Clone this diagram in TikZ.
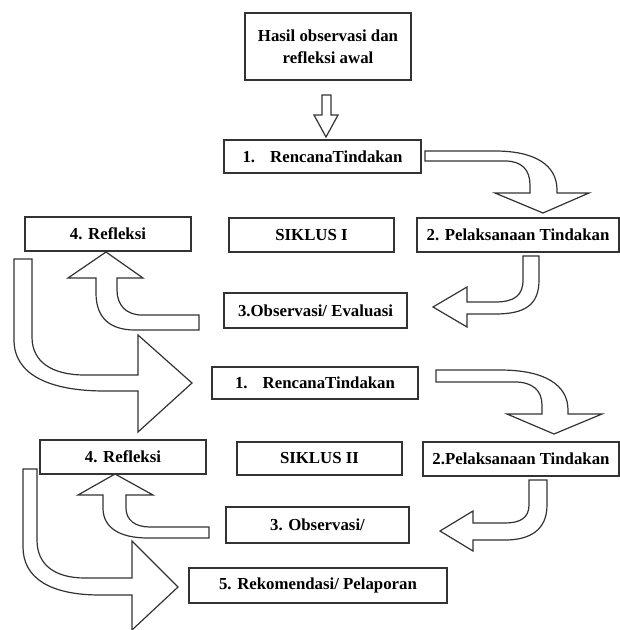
\documentclass[tikz,border=0pt]{standalone}
\usepackage{fontspec}
\setmainfont{Liberation Serif}
\begin{document}
\begin{tikzpicture}[x=1pt,y=-1pt,
  box/.style={draw=black!80,line width=1.3pt,fill=white,rectangle,inner sep=0pt,
    font=\fontsize{16.8}{22}\selectfont\bfseries,align=center},
  blk/.style={draw=black!80,line width=1.2pt,fill=white,line join=miter}]
\useasboundingbox (0,0) rectangle (620,630);
% boxes
\node[box,minimum width=166pt,minimum height=67pt] (hasil) at (328,46.5) {Hasil observasi dan\\refleksi awal};
\node[box,minimum width=197pt,minimum height=33pt] (r1) at (322.5,156.5) {1.\hspace{0.9em}RencanaTindakan};
\node[box,minimum width=202pt,minimum height=34pt] (p1) at (518,235) {2. Pelaksanaan Tindakan};
\node[box,minimum width=165pt,minimum height=34pt] (s1) at (311.5,235) {SIKLUS I};
\node[box,minimum width=166pt,minimum height=34pt] (f1) at (108,234) {4. Refleksi};
\node[box,minimum width=183pt,minimum height=35pt] (o1) at (315.5,310.5) {3.Observasi/ Evaluasi};
\node[box,minimum width=206pt,minimum height=32pt] (r2) at (315,383) {1.\hspace{0.9em}RencanaTindakan};
\node[box,minimum width=196pt,minimum height=34pt] (p2) at (521,459) {2.Pelaksanaan Tindakan};
\node[box,minimum width=165pt,minimum height=33pt] (s2) at (319.5,458.5) {SIKLUS II};
\node[box,minimum width=166pt,minimum height=34pt] (f2) at (123,457) {4. Refleksi};
\node[box,minimum width=183pt,minimum height=36pt] (o2) at (317.5,525) {3. Observasi/};
\node[box,minimum width=258pt,minimum height=35pt] (k) at (318,585.5) {5. Rekomendasi/ Pelaporan};
% block arrows
% hasil -> r1
\draw[blk] (322,95) -- (331,95) -- (331,115) -- (338,115) -- (326,137) -- (314,115) -- (322,115) -- cycle;
% r1 -> p1
\draw[blk] (425,151) -- (495,151) .. controls (535,151) and (557,165) .. (557,190) -- (557,193) -- (589,193) -- (543,213) -- (495,193) -- (530,193) -- (530,185) .. controls (530,170) and (522,161) .. (505,161) -- (425,161) -- cycle;
% p1 -> o1
\draw[blk] (523,256) -- (539,256) -- (539,280) .. controls (539,305) and (525,314) .. (495,314) -- (467,314) -- (467,327) -- (433,307) -- (467,287) -- (467,302) -- (495,302) .. controls (515,302) and (523,295) .. (523,280) -- cycle;
% o1 -> f1
\draw[blk] (199,315) -- (142,315) .. controls (126,315) and (117,305) .. (117,290) -- (117,278) -- (143,278) -- (106,252) -- (68,278) -- (96,278) -- (96,293) .. controls (96,318) and (110,330) .. (135,330) -- (199,330) -- cycle;
% f1 -> r2
\draw[blk] (14,259) -- (32,259) -- (32,337) .. controls (32,362) and (52,375) .. (85,375) -- (138,375) -- (138,335) -- (192,383) -- (138,432) -- (138,391) -- (105,391) .. controls (50,391) and (14,375) .. (14,340) -- cycle;
% r2 -> p2
\draw[blk] (436,370) -- (500,370) .. controls (545,370) and (568,385) .. (568,410) -- (568,414) -- (602,414) -- (554,434) -- (507,414) -- (542,414) -- (542,405) .. controls (542,390) and (532,382) .. (515,382) -- (436,382) -- cycle;
% p2 -> o2
\draw[blk] (529,480) -- (547,480) -- (547,505) .. controls (547,530) and (530,540) .. (505,540) -- (473,540) -- (473,551) -- (440,531) -- (473,511) -- (473,523) -- (505,523) .. controls (520,523) and (529,518) .. (529,505) -- cycle;
% o2 -> f2
\draw[blk] (209,527) -- (150,527) .. controls (135,527) and (126,520) .. (126,508) -- (126,495) -- (153,495) -- (115,474) -- (78,495) -- (103,495) -- (103,508) .. controls (103,528) and (120,538) .. (148,538) -- (209,538) -- cycle;
% f2 -> k
\draw[blk] (23,469) -- (37,469) -- (37,540) .. controls (37,565) and (55,578) .. (85,578) -- (132,578) -- (132,541) -- (178,587) -- (132,630) -- (132,595) -- (100,595) .. controls (50,595) and (23,578) .. (23,547) -- cycle;
\end{tikzpicture}
\end{document}
